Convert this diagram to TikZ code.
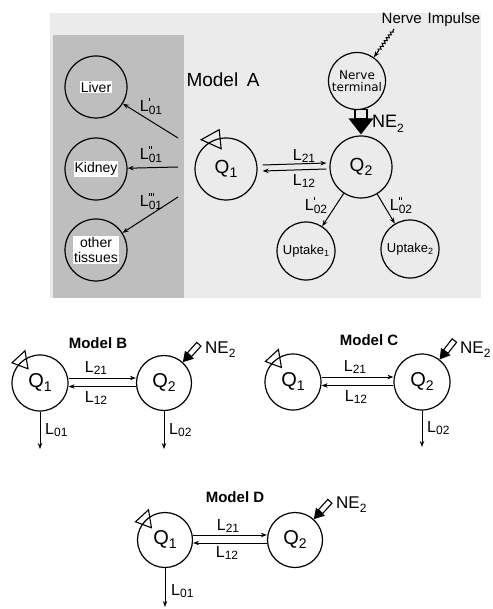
\documentclass[tikz,border=0pt]{standalone}
\usepackage{fontspec}
\setmainfont{Liberation Sans}
\newfontfamily\ntfont{DejaVu Sans}
\usetikzlibrary{arrows.meta,decorations.pathmorphing}
\definecolor{bglight}{HTML}{EBEBEB}
\definecolor{bgdark}{HTML}{BEBEBE}
\newcommand\fsz[1]{\fontsize{#1}{#1}\selectfont}
\newcommand\tick{\rule{0.9pt}{3.6pt}}
\newcommand\pI{\tick}
\newcommand\pII{\tick\hspace{1pt}\tick}
\newcommand\pIII{\tick\hspace{1pt}\tick\hspace{1pt}\tick}
\newcommand\Lab[2]{L\rlap{\raisebox{0.66em}{#1}}\raisebox{-0.16em}{\fsz{12}#2}}
\newcommand\Qs[1]{Q\raisebox{-0.2em}{\fsz{14}#1}}
\newcommand\NEs{NE\raisebox{-0.25em}{\fsz{12}2}}
\newcommand\Ups[1]{Uptake\raisebox{-0.2em}{\fsz{9}#1}}
\begin{document}
\begin{tikzpicture}[x=1pt,y=-1pt,
  comp/.style={circle,draw,line width=1.2pt,minimum size=#1,inner sep=0pt},
  whitelab/.style={fill=white,inner sep=1pt,font=\fsz{14},align=center},
  lab/.style={inner sep=0pt,font=\fsz{16}},
  mlab/.style={inner sep=0pt,font=\fsz{15}\bfseries},
  arr/.style={line width=1pt,-{Stealth[length=6pt,width=4.5pt]}},
  tri/.style={draw,line width=1.1pt,line join=miter},
  bigne/.pic={\draw[line width=1.1pt] (-25,-6) rectangle (-16,6);
              \fill (-16,-12.5) -- (0,0) -- (-16,12.5) -- cycle;},
  smallne/.pic={\draw[line width=1.1pt] (-24,-2.8) rectangle (-10,2.8);
                \fill (-10,-6) -- (0,0) -- (-10,6) -- cycle;}
]
\useasboundingbox (0,0) rectangle (492,609);
% ---------- Model A backgrounds
\fill[bglight] (50,13) rectangle (481,298);
\fill[bgdark] (53,35) rectangle (184,298);
% ---------- Model A nodes
\node[comp=62pt] (liver) at (96,87) {};
\node[whitelab] (liverT) at (liver) {Liver};
\node[comp=62pt] (kidney) at (96,169) {};
\node[whitelab] (kidneyT) at (kidney) {Kidney};
\node[comp=62pt] (other) at (96,250) {};
\node[whitelab,font=\fontsize{14}{15}\selectfont] (otherT) at (other) {other\\tissues};
\node[comp=62pt,font=\fsz{19}] (Q1A) at (226,169) {\Qs{1}};
\node[comp=62pt,font=\fsz{19}] (Q2A) at (361,167) {\Qs{2}};
\node[comp=57pt,font=\ntfont\fontsize{12}{12.5}\selectfont,align=center] (NT) at (357,81) {Nerve\\terminal};
\node[comp=58pt,font=\fsz{13}] (U1) at (306,251) {\Ups{1}};
\node[comp=58pt,font=\fsz{13}] (U2) at (410,249) {\Ups{2}};
\node[inner sep=0pt,font=\fsz{15}] (NI) at (431,20) {Nerve\hspace{0.4em}Impulse};
\node[inner sep=0pt,font=\fsz{19}] (mA) at (223,80) {Model\hspace{0.45em}A};
% edges from the shaded block
\coordinate (eLiver) at (178,138);
\coordinate (eKid) at (178,167);
\coordinate (eOth) at (178,197);
\draw[arr] (eLiver) -- (liver);
\draw[arr] (eKid) -- (kidney);
\draw[arr] (eOth) -- (other);
\node[lab] (La1) at (151,106) {\Lab{\pI}{01}};
\node[lab] (La2) at (151,154) {\Lab{\pII}{01}};
\node[lab] (La3) at (151,201) {\Lab{\pIII}{01}};
% Q1 <-> Q2
\draw[arr] ([xshift=5pt,yshift=4pt]Q1A.east) -- ([xshift=-3pt,yshift=4pt]Q2A.west);
\draw[arr] ([xshift=-3pt,yshift=-2pt]Q2A.west) -- ([xshift=5pt,yshift=-2pt]Q1A.east);
\node[lab] (LA21) at (304,156) {\Lab{}{21}};
\node[lab] (LA12) at (304,181) {\Lab{}{12}};
% uptakes
\draw[arr] (Q2A) -- (U1);
\draw[arr] (Q2A) -- (U2);
\node[lab] (LA02a) at (316,205) {\Lab{\pI}{02}};
\node[lab] (LA02b) at (401,205) {\Lab{\pII}{02}};
% nerve impulse
\coordinate (niS) at (394,29);
\draw[arr,decorate,decoration={zigzag,amplitude=1.3pt,segment length=3.5pt,pre length=2pt,post length=7pt}] (niS) -- (NT);
% NE2 into Q2
\pic[rotate=-90] (neA) at ([yshift=1pt]Q2A.north) {bigne};
\node[anchor=west,inner sep=0pt,font=\fsz{18}] (NEA) at (372,124) {\NEs};
% tracer triangle
\draw[tri,shift={(Q1A.112)}] (-13,0) -- (5,-10) -- (7,9) -- cycle;

% ---------- Model B
\node[mlab] (mB) at (98,343) {Model B};
\node[comp=56pt,font=\fsz{20}] (Q1B) at (40,383) {\Qs{1}};
\node[comp=55pt,font=\fsz{20}] (Q2B) at (164,383) {\Qs{2}};
\draw[arr] ([yshift=5pt]Q1B.east) -- ([yshift=5pt]Q2B.west);
\draw[arr] ([yshift=-3.5pt]Q2B.west) -- ([yshift=-3.5pt]Q1B.east);
\node[lab] (LB21) at (96,368) {\Lab{}{21}};
\node[lab] (LB12) at (96,398) {\Lab{}{12}};
\coordinate (oB1) at (40,449);
\draw[arr] (Q1B) -- (oB1);
\node[lab,anchor=west] (LB01) at (45,430) {\Lab{}{01}};
\coordinate (oB2) at (164,449);
\draw[arr] (Q2B) -- (oB2);
\node[lab,anchor=west] (LB02) at (169,430) {\Lab{}{02}};
\pic[rotate=228] (neB) at (Q2B.48) {smallne};
\node[anchor=west,inner sep=0pt,font=\fsz{17}] (NEB) at (205,350) {\NEs};
\draw[tri,shift={(Q1B.129)}] (-10,2) -- (3,-10) -- (6,8) -- cycle;

% ---------- Model C
\node[mlab] (mC) at (369,340) {Model C};
\node[comp=56pt,font=\fsz{20}] (Q1C) at (293,382) {\Qs{1}};
\node[comp=56pt,font=\fsz{20}] (Q2C) at (422,382) {\Qs{2}};
\draw[arr] ([yshift=5pt]Q1C.east) -- ([yshift=5pt]Q2C.west);
\draw[arr] ([yshift=-3.5pt]Q2C.west) -- ([yshift=-3.5pt]Q1C.east);
\node[lab] (LC21) at (355,367) {\Lab{}{21}};
\node[lab] (LC12) at (356,397) {\Lab{}{12}};
\coordinate (oC2) at (422,447);
\draw[arr] (Q2C) -- (oC2);
\node[lab,anchor=west] (LC02) at (427,428) {\Lab{}{02}};
\pic[rotate=232] (neC) at (Q2C.52) {smallne};
\node[anchor=west,inner sep=0pt,font=\fsz{17}] (NEC) at (460,350) {\NEs};
\draw[tri,shift={(Q1C.128)}] (-10,2) -- (3,-10) -- (6,8) -- cycle;

% ---------- Model D
\node[mlab] (mD) at (235,497) {Model D};
\node[comp=55pt,font=\fsz{20}] (Q1D) at (165,540) {\Qs{1}};
\node[comp=55pt,font=\fsz{20}] (Q2D) at (295,540) {\Qs{2}};
\draw[arr] ([yshift=5pt]Q1D.east) -- ([yshift=5pt]Q2D.west);
\draw[arr] ([yshift=-3pt]Q2D.west) -- ([yshift=-3pt]Q1D.east);
\node[lab] (LD21) at (228,526) {\Lab{}{21}};
\node[lab] (LD12) at (227,553) {\Lab{}{12}};
\coordinate (oD1) at (165,607);
\draw[arr] (Q1D) -- (oD1);
\node[lab,anchor=west] (LD01) at (171,591) {\Lab{}{01}};
\pic[rotate=228] (neD) at (Q2D.48) {smallne};
\node[anchor=west,inner sep=0pt,font=\fsz{17}] (NED) at (336,505) {\NEs};
\draw[tri,shift={(Q1D.134)}] (-10,2) -- (3,-10) -- (6,8) -- cycle;
\end{tikzpicture}
\end{document}
